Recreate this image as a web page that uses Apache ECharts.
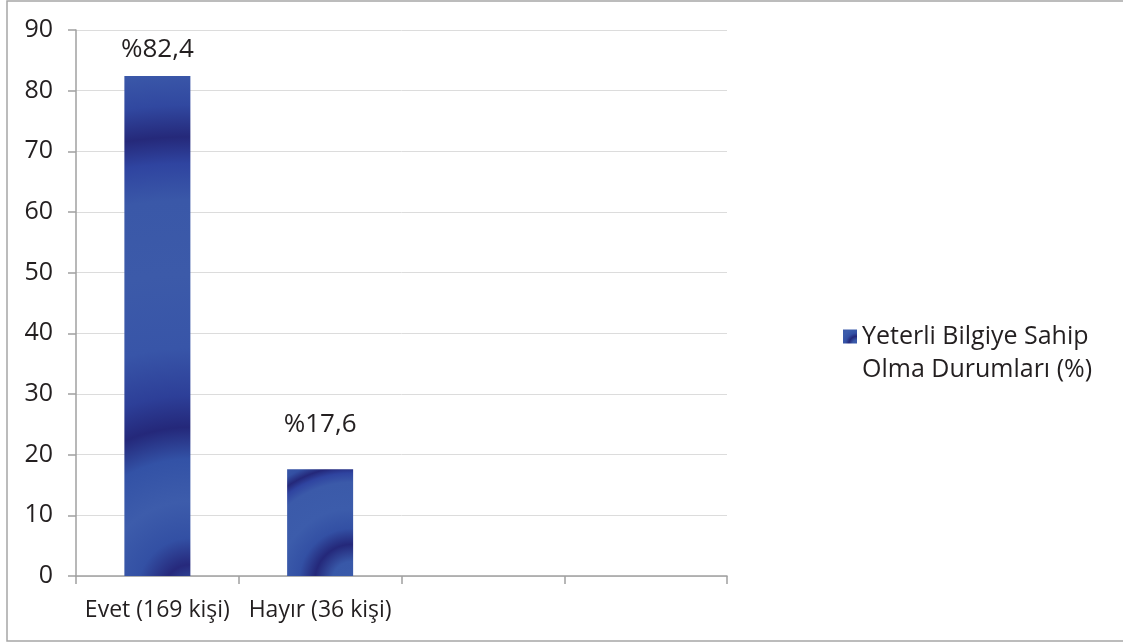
<!DOCTYPE html>
<html>
<head>
<meta charset="utf-8">
<script src="https://cdn.jsdelivr.net/npm/echarts@6/dist/echarts.min.js"></script>
<style>
  html, body { margin: 0; padding: 0; background: #fff; }
  #chart { width: 1123px; height: 643px; }
</style>
</head>
<body>
<div id="chart"></div>
<script>
// Chart data
const categories = ['Evet (169 kişi)', 'Hayır (36 kişi)', '', ''];
const values = [82.4, 17.6, null, null];
const valueLabels = ['%82,4', '%17,6', '', ''];
const seriesName = 'Yeterli Bilgiye Sahip\nOlma Durumları (%)';
const yTicks = { min: 0, max: 90, interval: 10 };

const FONT = '"Open Sans", "Noto Sans", sans-serif';
const TEXT = '#231f20';

// Banded blue fills (concentric rings centred near the bar's lower-right corner)
function ringFill(x, y, r, stops) {
  return {
    type: 'radial', x: x, y: y, r: r,
    colorStops: stops.map(s => ({ offset: s[0], color: s[1] }))
  };
}
const tallBarFill = ringFill(1.0, 1.03, 8.0, [
  [0.00, '#3556a8'], [0.05, '#26297c'], [0.10, '#3350a4'], [0.17, '#3d5cab'],
  [0.25, '#3352a6'], [0.31, '#24287a'], [0.37, '#2d3f98'], [0.46, '#3855a8'],
  [0.60, '#3c5aa9'], [0.74, '#3a58a8'], [0.81, '#2f44a0'], [0.86, '#25297a'],
  [0.92, '#3148a0'], [1.00, '#3d5cab']
]);
const shortBarFill = ringFill(0.98, 1.05, 2.0, [
  [0.00, '#3a5aaa'], [0.15, '#3858a8'], [0.28, '#24287a'], [0.40, '#3350a4'],
  [0.55, '#3c5cab'], [0.75, '#3b5aa9'], [0.82, '#2f44a0'], [0.87, '#24287a'],
  [0.93, '#3350a3'], [1.00, '#3b58a8']
]);
const fills = [tallBarFill, shortBarFill, shortBarFill, shortBarFill];
const labelGaps = [14, 32, 14, 14];

const chart = echarts.init(document.getElementById('chart'), null, { renderer: 'canvas' });

chart.setOption({
  animation: false,
  backgroundColor: '#ffffff',
  graphic: [{
    type: 'rect',
    shape: { x: 7, y: 1, width: 1140, height: 640 },
    style: { fill: 'none', stroke: '#a6a6a6', lineWidth: 1.5 },
    silent: true,
    z: -1
  }],
  grid: { left: 76, right: 396, top: 30, bottom: 67, containLabel: false },
  legend: {
    data: [seriesName],
    orient: 'vertical',
    left: 838,
    top: 282,
    itemWidth: 14,
    itemHeight: 14,
    itemGap: 0,
    icon: 'rect',
    // leading blank line keeps the swatch level with the first text line
    formatter: name => '\n' + name,
    textStyle: {
      fontFamily: FONT, fontSize: 25, color: TEXT, lineHeight: 33
    }
  },
  xAxis: {
    type: 'category',
    data: categories,
    axisLine: { lineStyle: { color: '#a0a0a0', width: 1.5 } },
    axisTick: { show: true, length: 8, interval: 0, lineStyle: { color: '#a0a0a0', width: 1.5 } },
    axisLabel: { interval: 0, margin: 23, fontFamily: FONT, fontSize: 23, color: TEXT }
  },
  yAxis: {
    type: 'value',
    min: yTicks.min,
    max: yTicks.max,
    interval: yTicks.interval,
    axisLine: { show: true, lineStyle: { color: '#a0a0a0', width: 1.5 } },
    axisTick: { show: true, length: 8, lineStyle: { color: '#a0a0a0', width: 1.5 } },
    axisLabel: { margin: 23, fontFamily: FONT, fontSize: 25, color: TEXT },
    splitLine: { lineStyle: { color: '#dcdcdc', width: 1 } }
  },
  series: [{
    name: seriesName,
    type: 'bar',
    barWidth: 66,
    itemStyle: { color: shortBarFill },
    data: values.map((v, i) => ({
      value: v,
      itemStyle: { color: fills[i] },
      label: { distance: labelGaps[i] }
    })),
    label: {
      show: true,
      position: 'top',
      fontFamily: FONT,
      fontSize: 26,
      color: TEXT,
      formatter: p => valueLabels[p.dataIndex]
    }
  }]
});
</script>
</body>
</html>
